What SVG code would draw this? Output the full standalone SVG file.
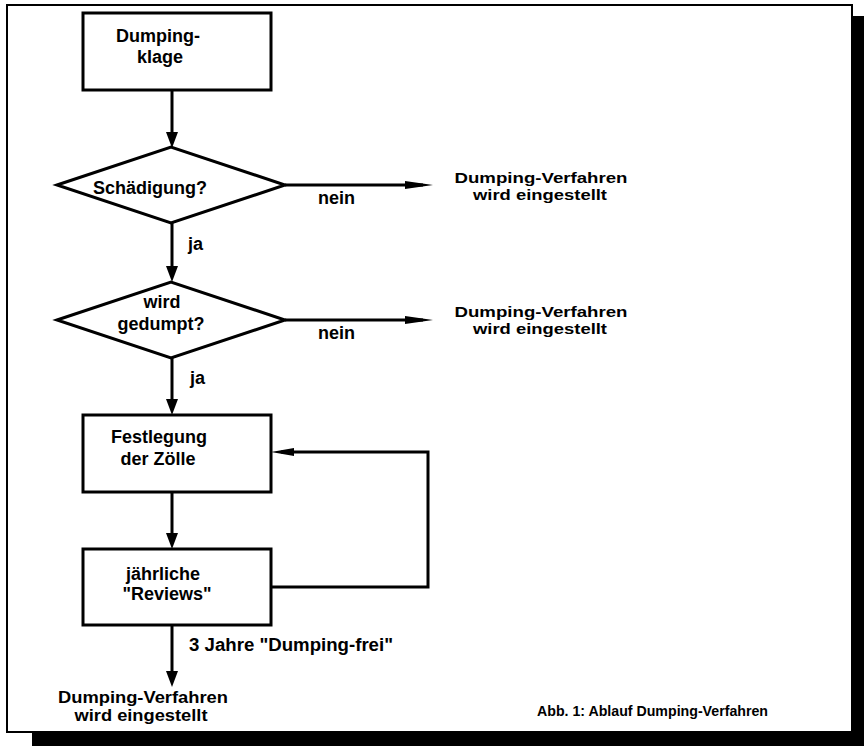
<svg xmlns="http://www.w3.org/2000/svg" width="866" height="746" viewBox="0 0 866 746">
<style>
text{font-family:"Liberation Sans",Arial,Helvetica,sans-serif;font-weight:bold;font-size:18px;fill:#000}
.c{text-anchor:middle}
.box{fill:#fff;stroke:#000;stroke-width:3}
.ln{fill:none;stroke:#000;stroke-width:3}
.small{font-size:14px}
.end{font-size:15px}
.endb{font-size:16px}
</style>
<defs>
<marker id="av" markerUnits="userSpaceOnUse" markerWidth="16" markerHeight="12" refX="6" refY="6" orient="auto" overflow="visible"><path d="M0,0 L16,6 L0,12 z" fill="#000"/></marker>
<marker id="ah" markerUnits="userSpaceOnUse" markerWidth="28" markerHeight="8" refX="18" refY="4" orient="auto" overflow="visible"><path d="M0,0 L28,4 L0,8 z" fill="#000"/></marker>
<marker id="af" markerUnits="userSpaceOnUse" markerWidth="23" markerHeight="8" refX="13" refY="4" orient="auto" overflow="visible"><path d="M0,0 L23,4 L0,8 z" fill="#000"/></marker>
</defs>
<rect x="0" y="0" width="866" height="746" fill="#fff"/>
<g id="frame">
<rect x="32" y="16" width="832" height="730" fill="#000"/>
<rect x="7" y="5" width="845" height="727" fill="#fff" stroke="#000" stroke-width="2"/>
</g>
<g id="connectors">
<path class="ln" d="M172,90 V138" marker-end="url(#av)"/>
<path class="ln" d="M172,223 V272" marker-end="url(#av)"/>
<path class="ln" d="M172,358 V405" marker-end="url(#av)"/>
<path class="ln" d="M172,492 V539" marker-end="url(#av)"/>
<path class="ln" d="M172,625 V677" marker-end="url(#av)"/>
<path class="ln" d="M285,185 H423" marker-end="url(#ah)"/>
<path class="ln" d="M285,320 H423" marker-end="url(#ah)"/>
<path class="ln" d="M271,587 H428 V452 H281" marker-end="url(#af)"/>
<text x="318" y="204">nein</text>
<text x="318" y="339">nein</text>
<text x="188" y="250">ja</text>
<text x="190" y="384">ja</text>
<text x="189" y="651" textLength="204" lengthAdjust="spacingAndGlyphs">3 Jahre "Dumping-frei"</text>
</g>
<g id="n_klage">
<rect class="box" x="83" y="13" width="188" height="77"/>
<text class="c" x="158" y="42">Dumping-</text>
<text class="c" x="160" y="63">klage</text>
</g>
<g id="n_schaedigung">
<polygon class="box" points="57,185 171,147 285,185 171,223"/>
<text class="c" x="150" y="194">Schädigung?</text>
</g>
<g id="n_gedumpt">
<polygon class="box" points="57,320 171,282 285,320 171,358"/>
<text class="c" x="162" y="308">wird</text>
<text class="c" x="161" y="330">gedumpt?</text>
</g>
<g id="n_zoelle">
<rect class="box" x="83" y="415" width="188" height="77"/>
<text class="c" x="159" y="443">Festlegung</text>
<text class="c" x="158" y="465">der Zölle</text>
</g>
<g id="n_reviews">
<rect class="box" x="83" y="549" width="188" height="76"/>
<text class="c" x="163" y="580">jährliche</text>
<text class="c" x="167" y="600">"Reviews"</text>
</g>
<g id="n_end1">
<text class="c end" x="541" y="183" textLength="173" lengthAdjust="spacingAndGlyphs">Dumping-Verfahren</text>
<text class="c end" x="540" y="200" textLength="134" lengthAdjust="spacingAndGlyphs">wird eingestellt</text>
</g>
<g id="n_end2">
<text class="c end" x="541" y="317" textLength="173" lengthAdjust="spacingAndGlyphs">Dumping-Verfahren</text>
<text class="c end" x="540" y="334" textLength="134" lengthAdjust="spacingAndGlyphs">wird eingestellt</text>
</g>
<g id="n_end3">
<text class="c endb" x="143" y="703" textLength="170" lengthAdjust="spacingAndGlyphs">Dumping-Verfahren</text>
<text class="c endb" x="141" y="721" textLength="133" lengthAdjust="spacingAndGlyphs">wird eingestellt</text>
</g>
<g id="caption">
<text class="small" x="537" y="716" textLength="231" lengthAdjust="spacingAndGlyphs">Abb. 1: Ablauf Dumping-Verfahren</text>
</g>
</svg>
